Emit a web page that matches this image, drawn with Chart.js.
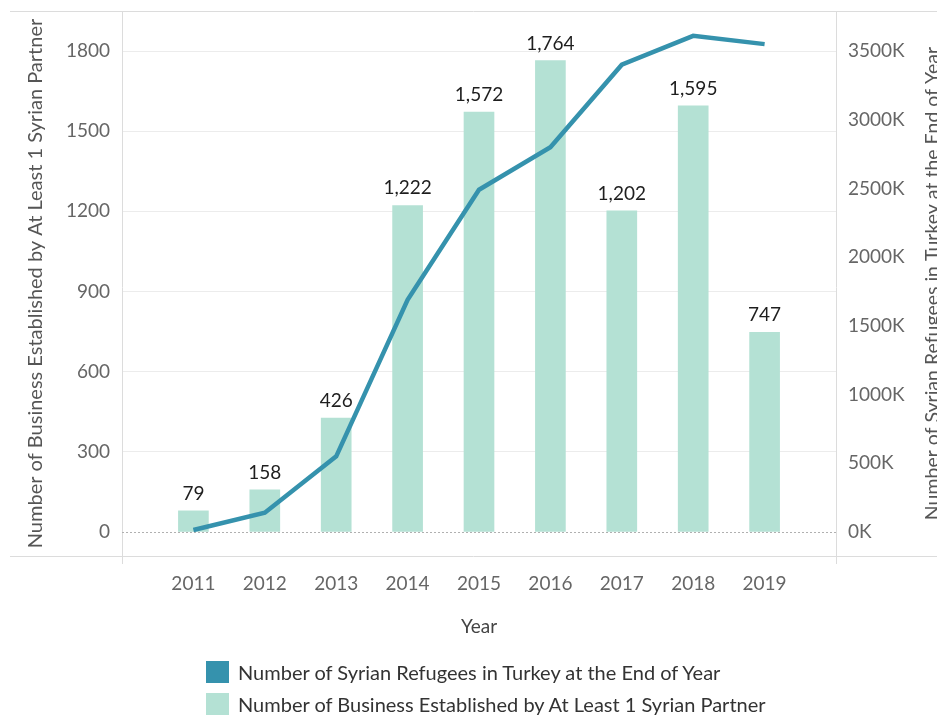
<!DOCTYPE html>
<html>
<head>
<meta charset="utf-8">
<title>Syrian Refugees and Businesses in Turkey</title>
<script src="https://cdn.jsdelivr.net/npm/chart.js@4/dist/chart.umd.min.js"></script>
<style>
  body { margin: 0; background: #fff; }
  .wrap { position: relative; width: 937px; height: 718px; overflow: hidden; }
  .legend { position: absolute; left: 206px; top: 656px; font: 20px Lato, sans-serif; color: #333; }
  .legend div { display: flex; align-items: center; height: 32px; }
  .legend span { display: inline-block; width: 23px; height: 22px; margin-right: 9px; }
</style>
</head>
<body>
<div class="wrap">
  <canvas id="combo-chart"></canvas>
  <div class="legend">
    <div><span style="background:#3592ad"></span>Number of Syrian Refugees in Turkey at the End of Year</div>
    <div><span style="background:#b4e1d4"></span>Number of Business Established by At Least 1 Syrian Partner</div>
  </div>
</div>
<script>
const years = [2011, 2012, 2013, 2014, 2015, 2016, 2017, 2018, 2019];
// businesses with at least one Syrian partner
const businesses = [79, 158, 426, 1222, 1572, 1764, 1202, 1595, 747];
// refugees at end of year, in thousands
const refugees = [14, 140, 550, 1690, 2490, 2800, 3400, 3610, 3550];

const leftTicks = [0, 300, 600, 900, 1200, 1500, 1800];
const rightTicks = [0, 500, 1000, 1500, 2000, 2500, 3000, 3500];

const leftTitle = 'Number of Business Established by At Least 1 Syrian Partner';
const rightTitle = 'Number of Syrian Refugees in Turkey at the End of Year';

const fontFamily = 'Lato, sans-serif';

const toPoints = (values) => years.map((year, i) => ({ x: year, y: values[i] }));

// fixed axis widths, and no extra room for the end tick labels
const fitWidth = (width) => (scale) => {
  scale.width = width;
  scale.paddingTop = 0;
  scale.paddingBottom = 0;
};

// frame lines, dotted zero line, bar value labels and the right axis title
const decorations = {
  id: 'decorations',
  beforeDatasetsDraw(chart) {
    const { ctx, chartArea: area, width } = chart;
    const zeroY = chart.scales.y.getPixelForValue(0);
    ctx.save();
    ctx.strokeStyle = '#dcdcdc';
    ctx.lineWidth = 1;
    ctx.beginPath();
    ctx.moveTo(10, area.top + 0.5);
    ctx.lineTo(width, area.top + 0.5);
    ctx.moveTo(10, area.bottom + 0.5);
    ctx.lineTo(width, area.bottom + 0.5);
    ctx.moveTo(area.left + 0.5, area.top);
    ctx.lineTo(area.left + 0.5, area.bottom + 8);
    ctx.moveTo(area.right + 0.5, area.top);
    ctx.lineTo(area.right + 0.5, area.bottom + 8);
    ctx.stroke();

    ctx.strokeStyle = '#b0b0b0';
    ctx.setLineDash([2, 2]);
    ctx.beginPath();
    ctx.moveTo(area.left, Math.round(zeroY) + 0.5);
    ctx.lineTo(area.right, Math.round(zeroY) + 0.5);
    ctx.stroke();
    ctx.restore();
  },
  afterDatasetsDraw(chart) {
    const { ctx, chartArea: area } = chart;
    const barMeta = chart.getDatasetMeta(1);
    ctx.save();
    ctx.font = `19px ${fontFamily}`;
    ctx.fillStyle = '#1e1e1e';
    ctx.textAlign = 'center';
    ctx.textBaseline = 'alphabetic';
    barMeta.data.forEach((bar, i) => {
      ctx.fillText(businesses[i].toLocaleString('en-US'), bar.x, bar.y - 11);
    });

    ctx.font = `19.5px ${fontFamily}`;
    ctx.fillStyle = '#555';
    ctx.textBaseline = 'middle';
    ctx.translate(933, (area.top + area.bottom) / 2);
    ctx.rotate(-Math.PI / 2);
    ctx.fillText(rightTitle, 0, 0);
    ctx.restore();
  },
};

const renderChart = () => {
  const canvas = document.querySelector('#combo-chart');

  // eslint-disable-next-line no-new, no-undef
  new Chart(canvas, {
    type: 'bar',
    data: {
      datasets: [
        {
          type: 'line',
          label: rightTitle,
          data: toPoints(refugees),
          yAxisID: 'y1',
          borderColor: '#3592ad',
          backgroundColor: '#3592ad',
          borderWidth: 4.5,
          pointRadius: 0,
          tension: 0,
          order: 0,
        },
        {
          type: 'bar',
          label: leftTitle,
          data: toPoints(businesses),
          yAxisID: 'y',
          backgroundColor: '#b4e1d4',
          barThickness: 30,
          order: 1,
        },
      ],
    },
    plugins: [decorations],
    options: {
      responsive: true,
      maintainAspectRatio: false,
      animation: false,
      layout: { padding: { top: 11, bottom: 80, left: 0, right: 0 } },
      plugins: {
        legend: { display: false },
        tooltip: { enabled: false },
      },
      scales: {
        x: {
          type: 'linear',
          offset: false,
          min: 2010,
          max: 2020,
          afterBuildTicks: (scale) => { scale.ticks = years.map((v) => ({ value: v })); },
          afterFit: (scale) => { scale.height = 82; },
          grid: { display: false, offset: false },
          border: { display: false },
          ticks: {
            padding: 8,
            color: '#666',
            font: { family: fontFamily, size: 19 },
            callback: (value) => String(value),
          },
          title: {
            display: true,
            text: 'Year',
            color: '#444',
            font: { family: fontFamily, size: 19 },
            padding: 0,
          },
        },
        y: {
          position: 'left',
          min: -90,
          max: 1950,
          afterBuildTicks: (scale) => { scale.ticks = leftTicks.map((v) => ({ value: v })); },
          afterFit: fitWidth(122),
          grid: {
            drawTicks: false,
            color: (ctx) => (ctx.tick && ctx.tick.value === 0 ? 'rgba(0,0,0,0)' : '#ececec'),
          },
          border: { display: false },
          ticks: {
            padding: 12,
            color: '#666',
            font: { family: fontFamily, size: 19 },
            callback: (value) => String(value),
          },
          title: {
            display: true,
            text: leftTitle,
            color: '#555',
            font: { family: fontFamily, size: 20 },
            padding: { top: 24, bottom: 0 },
          },
        },
        y1: {
          position: 'right',
          min: -175,
          max: 3791,
          afterBuildTicks: (scale) => { scale.ticks = rightTicks.map((v) => ({ value: v })); },
          afterFit: fitWidth(101),
          grid: { display: false, drawTicks: false },
          border: { display: false },
          ticks: {
            padding: 12,
            color: '#666',
            font: { family: fontFamily, size: 19 },
            callback: (value) => `${value}K`,
          },
        },
      },
    },
  });
};

renderChart();
</script>
</body>
</html>
